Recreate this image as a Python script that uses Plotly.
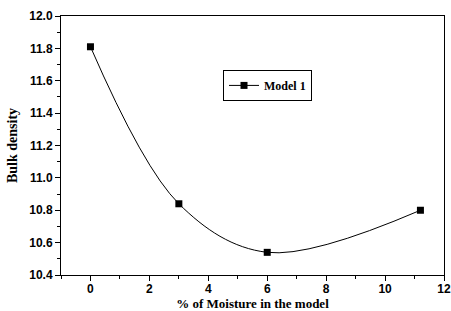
import plotly.graph_objects as go

moisture = [0, 3, 6, 11.2]
bulk_density = [11.81, 10.84, 10.54, 10.80]
series_name = "Model 1"

fig = go.Figure()
fig.add_trace(go.Scatter(
    x=moisture, y=bulk_density, name=series_name,
    mode="lines+markers",
    line=dict(shape="spline", smoothing=1.0, color="black", width=1),
    marker=dict(symbol="square", size=7, color="black"),
))

axis_common = dict(
    showline=True, linecolor="black", linewidth=1, mirror=True,
    ticks="outside", ticklen=5, tickwidth=1, tickcolor="black",
    showgrid=False, zeroline=False, automargin=False,
    tickfont=dict(family="Liberation Sans, Arial", size=12, color="black", weight="bold"),
)

fig.update_xaxes(
    range=[-1, 12], tickmode="array", tickvals=[0, 2, 4, 6, 8, 10, 12],
    ticklabelstandoff=-2,
    minor=dict(ticks="outside", ticklen=3, tickcolor="black", dtick=1, showgrid=False),
    title=dict(text="<b>% of Moisture in the model</b>", standoff=4,
               font=dict(family="Liberation Serif, Times New Roman", size=13, color="black")),
    **axis_common,
)
fig.update_yaxes(
    range=[10.4, 12.0], tickmode="array",
    tickvals=[10.4, 10.6, 10.8, 11.0, 11.2, 11.4, 11.6, 11.8, 12.0],
    ticktext=["10.4", "10.6", "10.8", "11.0", "11.2", "11.4", "11.6", "11.8", "12.0"],
    minor=dict(ticks="outside", ticklen=3, tickcolor="black", dtick=0.1, showgrid=False),
    title=dict(text="<b>Bulk density</b>", standoff=8,
               font=dict(family="Liberation Serif, Times New Roman", size=14, color="black")),
    **axis_common,
)

fig.update_layout(
    width=451, height=311,
    margin=dict(l=61, r=7, t=16, b=36),
    plot_bgcolor="white", paper_bgcolor="white",
    showlegend=True,
    legend=dict(
        x=0.423, y=0.732, xanchor="left", yanchor="middle",
        bordercolor="black", borderwidth=1, bgcolor="white",
        font=dict(family="Liberation Serif, Times New Roman", size=12, color="black", weight="bold"),
        itemwidth=30, tracegroupgap=0,
    ),
)

fig.write_html("out.html", config={"displayModeBar": False})
with open("out.html", encoding="utf-8") as f:
    html = f.read()
html = html.replace("<head>", "<head><style>html,body{margin:0;padding:0;overflow:hidden}</style>", 1)
with open("out.html", "w", encoding="utf-8") as f:
    f.write(html)
